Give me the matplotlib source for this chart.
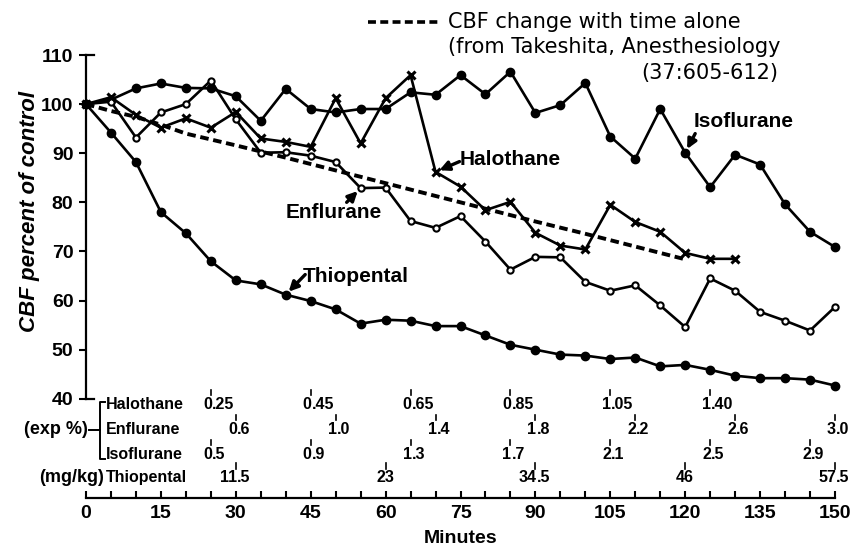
import matplotlib
matplotlib.use("Agg")
import matplotlib.pyplot as plt
from matplotlib.lines import Line2D

# CBF as percent of control, sampled every 5 minutes
minutes = list(range(0, 155, 5))
thiopental = [100, 94.2, 88.2, 78.0, 73.7, 68.0, 64.1, 63.3, 61.2, 59.9, 58.2,
              55.3, 56.1, 55.9, 54.8, 54.8, 52.9, 51.0, 50.0, 49.0, 48.8,
              48.1, 48.4, 46.6, 46.9, 45.9, 44.7, 44.2, 44.2, 43.9, 42.7]
isoflurane = [100, 100.9, 103.2, 104.2, 103.3, 103.2, 101.6, 96.6, 103.1, 99.0, 98.3,
              99.0, 99.0, 102.4, 101.9, 105.9, 102.0, 106.6, 98.2, 99.8, 104.3,
              93.4, 88.9, 99.0, 90.1, 83.1, 89.7, 87.7, 79.6, 74.0, 70.9]
enflurane = [100, 100.5, 93.2, 98.3, 100.0, 104.8, 96.9, 90.1, 90.2, 89.5, 88.2,
             82.9, 83.0, 76.2, 74.8, 77.2, 72.0, 66.3, 68.9, 68.8, 63.8,
             62.0, 63.1, 59.0, 54.6, 64.5, 62.0, 57.7, 55.9, 53.9, 58.7]
halothane_minutes = list(range(0, 135, 5))
halothane = [100, 101.4, 97.8, 95.2, 97.1, 95.2, 98.4, 93.0, 92.3, 91.3, 101.2,
             92.0, 101.2, 105.9, 86.2, 83.2, 78.4, 80.1, 73.8, 71.2, 70.4,
             79.5, 76.0, 74.0, 69.7, 68.5, 68.5]

# time alone (Takeshita)
time_alone_minutes = [0, 5, 10, 15, 20, 30, 40, 50, 60, 70, 80, 90, 100, 110, 120]
time_alone = [100, 98.6, 97.4, 95.8, 94.0, 91.6, 89.1, 86.5, 83.9, 81.3, 78.7,
              76.1, 73.6, 71.0, 68.4]

# dose table below the plot
halo_dose_t = [25, 45, 65, 85, 105, 125]
halo_dose = ['0.25', '0.45', '0.65', '0.85', '1.05', '1.40']
enflu_dose_t = [30, 50, 70, 90, 110, 130, 150]
enflu_dose = ['0.6', '1.0', '1.4', '1.8', '2.2', '2.6', '3.0']
iso_dose_t = [25, 45, 65, 85, 105, 125, 145]
iso_dose = ['0.5', '0.9', '1.3', '1.7', '2.1', '2.5', '2.9']
thio_dose_t = [30, 60, 90, 120, 150]
thio_dose = ['11.5', '23', '34.5', '46', '57.5']

plt.rcParams['font.family'] = ['Liberation Sans', 'DejaVu Sans']
plt.rcParams['font.weight'] = 'bold'

fig = plt.figure(figsize=(8.64, 5.57), dpi=100)
W, H = 864, 557
ax = fig.add_axes([86 / W, 1 - 498 / H, (835 - 86) / W, (498 - 55) / H])
ax.set_xlim(0, 150)
ax.set_ylim(19.8, 110)

lw = 1.9
ax.plot(minutes, isoflurane, color='black', lw=lw, marker='o', ms=6, clip_on=False, zorder=3)
ax.plot(minutes, thiopental, color='black', lw=lw, marker='o', ms=6, clip_on=False, zorder=3)
ax.plot(minutes, enflurane, color='black', lw=lw, marker='o', ms=4.5, mfc='white',
        mec='black', mew=1.5, clip_on=False, zorder=4)
ax.plot(halothane_minutes, halothane, color='black', lw=lw, marker='x', ms=6,
        mew=2.2, clip_on=False, zorder=4)
ax.plot(time_alone_minutes, time_alone, color='black', lw=2.8, ls=(0, (2.2, 1.2)),
        zorder=2)

# spines / ticks
for s in ['top', 'right']:
    ax.spines[s].set_visible(False)
ax.spines['left'].set_bounds(40, 110)
ax.spines['left'].set_linewidth(1.6)
ax.spines['bottom'].set_linewidth(1.6)
ax.set_yticks(range(40, 111, 10))
ax.tick_params(axis='y', direction='out', length=5, width=1.5, labelsize=14, pad=4)
ax.set_xticks(range(0, 151, 15))
ax.set_xticks(range(0, 151, 5), minor=True)
ax.tick_params(axis='x', which='both', direction='in', length=5, width=1.5,
               labelsize=14, pad=5)
ax.set_xlabel('Minutes', fontsize=14, fontweight='bold', labelpad=6)
for v in (40, 110):
    ax.plot([0, 1.6], [v, v], color='black', lw=1.6, clip_on=False)

fig.text(30 / W, 1 - 212 / H, 'CBF percent of control', rotation=90, ha='center',
         va='center', fontsize=16, fontstyle='italic', fontweight='bold')

# curve labels with arrows
arrow = dict(arrowstyle='-|>', color='black', lw=2.4, mutation_scale=14,
             shrinkA=0, shrinkB=3)
lab = dict(fontsize=15, fontweight='bold', va='center', ha='left')
ax.text(121.6, 96.4, 'Isoflurane', **lab)
ax.annotate('', xy=(120, isoflurane[24]), xytext=(122.0, 94.0), arrowprops=arrow)
ax.text(74.9, 88.8, 'Halothane', **lab)
ax.annotate('', xy=(70, halothane[14]), xytext=(74.8, 88.3), arrowprops=arrow)
ax.text(39.9, 78.0, 'Enflurane', **lab)
ax.annotate('', xy=(55, enflurane[11]), xytext=(52.2, 80.0), arrowprops=arrow)
ax.text(43.5, 64.8, 'Thiopental', **lab)
ax.annotate('', xy=(40, thiopental[8]), xytext=(43.9, 65.3), arrowprops=arrow)

# dose table
rows = [(38.8, halo_dose_t, halo_dose), (33.7, enflu_dose_t, enflu_dose),
        (28.6, iso_dose_t, iso_dose), (23.9, thio_dose_t, thio_dose)]
tbl = dict(fontsize=11.5, fontweight='bold', va='center')
for y, ts, labels in rows:
    for t, s in zip(ts, labels):
        if '.' in s:
            ip, fp = s.split('.')
            ax.text(t + 0.2, y, ip, ha='right', clip_on=False, **tbl)
            ax.text(t + 0.2, y, '.' + fp, ha='left', clip_on=False, **tbl)
        else:
            ax.text(t, y, s, ha='center', clip_on=False, **tbl)
        ax.plot([t, t], [y + 1.9, y + 3.0], color='black', lw=1.2, clip_on=False)

ax.text(4.0, 38.8, 'Halothane', ha='left', clip_on=False, **tbl)
ax.text(4.0, 33.7, 'Enflurane', ha='left', clip_on=False, **tbl)
ax.text(4.0, 28.6, 'Isoflurane', ha='left', clip_on=False, **tbl)
ax.text(4.0, 23.9, 'Thiopental', ha='left', clip_on=False, **tbl)
par = {**tbl, 'fontsize': 13}
ax.text(0.4, 33.7, '(exp %)', ha='right', clip_on=False, **par)
ax.text(3.6, 23.9, '(mg/kg)', ha='right', clip_on=False, **par)
# bracket
ax.plot([3.8, 2.8, 2.8, 3.8], [39.4, 39.4, 27.8, 27.8], color='black', lw=1.4,
        clip_on=False)
ax.plot([0.6, 2.8], [33.7, 33.7], color='black', lw=1.4, clip_on=False)

# legend for dashed curve
fig.add_artist(Line2D([368 / W, 438 / W], [1 - 22 / H, 1 - 22 / H], color='black',
                      lw=2.6, ls=(0, (2.2, 1.2))))
leg = dict(fontsize=15, fontweight='normal', va='center', ha='left',
           family=['DejaVu Sans'])
fig.text(448 / W, 1 - 22 / H, 'CBF change with time alone', **leg)
fig.text(448 / W, 1 - 47 / H, '(from Takeshita, Anesthesiology', **leg)
fig.text(778 / W, 1 - 73 / H, '(37:605-612)', **{**leg, 'ha': 'right'})

fig.savefig('out.png', dpi=100)
